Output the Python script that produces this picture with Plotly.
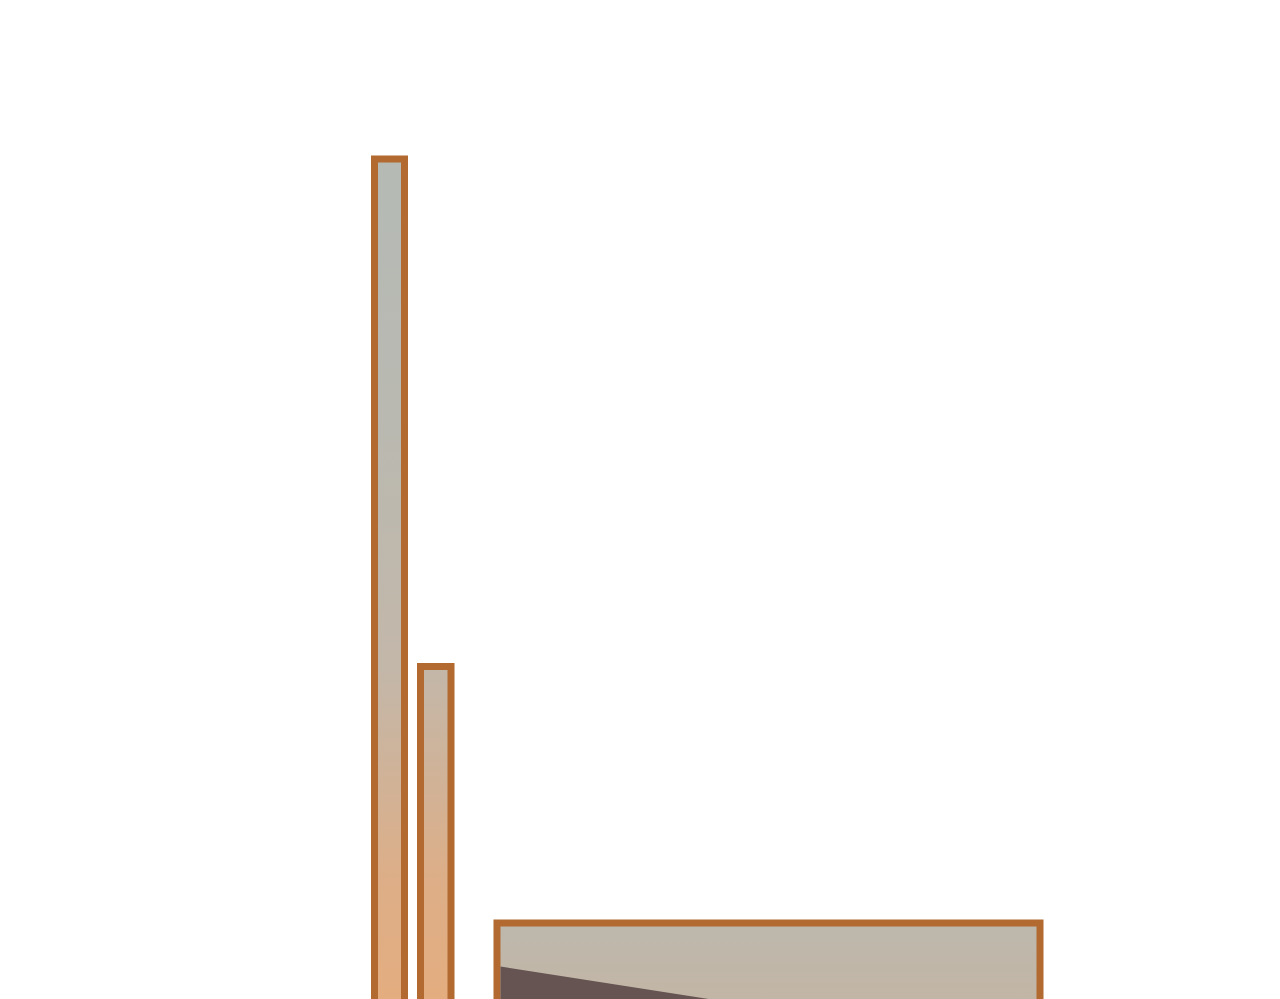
import plotly.graph_objects as go

# bar edges and tops (axis units = px across, px up from below the view)
bar_left = [374.5, 420.5, 497]
bar_right = [404.5, 451, 1040]
bar_top = [850, 342.5, 86]
bar_base = 0

# dark wedge inside the wide bar
wedge_x = [500.5, 760, 760, 500.5]
wedge_y = [42.5, 2, 0, 0]

outline_color = '#b26a31'
tall_scale = [[0, '#e4ad7f'], [0.15, '#ddae87'], [0.4, '#c3b7a9'],
              [0.7, '#b9b9b1'], [1, '#b5bab5']]
wide_scale = [[0, '#c3b5a4'], [1, '#bdb8ad']]

fig = go.Figure()

for i in range(len(bar_top)):
    l, r, t = bar_left[i], bar_right[i], bar_top[i]
    scale = tall_scale if i < 2 else wide_scale
    fig.add_trace(go.Scatter(
        x=[l, l, r, r, l],
        y=[bar_base, t, t, bar_base, bar_base],
        mode='lines',
        fill='toself',
        fillgradient=dict(type='vertical', colorscale=scale,
                          start=bar_base, stop=bar_top[0] if i < 2 else t),
        line=dict(color=outline_color, width=7),
        hoverinfo='skip',
        showlegend=False
    ))

fig.add_trace(go.Scatter(
    x=wedge_x,
    y=wedge_y,
    mode='lines',
    fill='toself',
    fillcolor='#655452',
    line=dict(width=0),
    hoverinfo='skip',
    showlegend=False
))

# page body adds an 8px offset, so the ranges are shifted to match
fig.update_layout(
    width=1280,
    height=999,
    margin=dict(l=0, r=0, t=0, b=0),
    xaxis=dict(range=[8, 1288], visible=False),
    yaxis=dict(range=[2, 1001], visible=False),
    plot_bgcolor='white',
    paper_bgcolor='white'
)

fig.write_html("out.html")
